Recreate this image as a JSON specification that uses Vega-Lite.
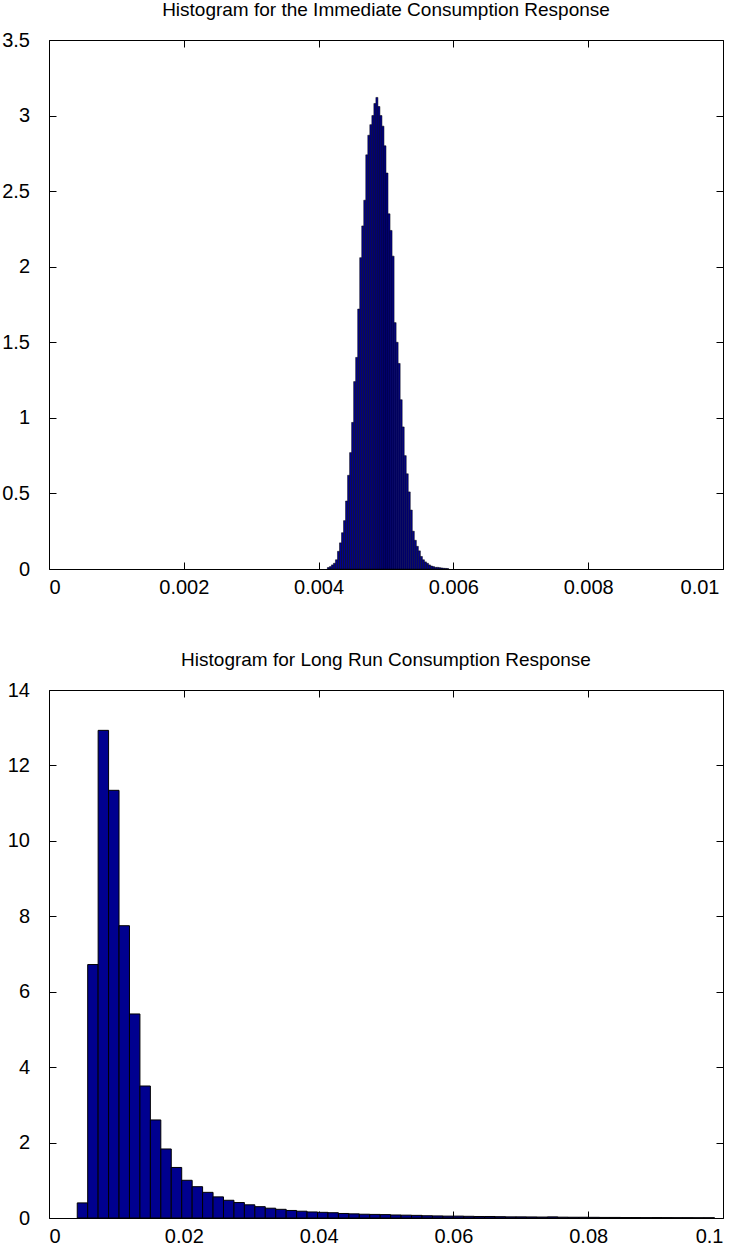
{
  "$schema": "https://vega.github.io/schema/vega-lite/v6.json",
  "padding": {"left": 1, "top": 0, "right": 0, "bottom": 0},
  "background": "white",
  "config": {
    "font": "Liberation Sans",
    "view": {"stroke": "black", "strokeWidth": 1},
    "axis": {
      "domain": false, "grid": false, "tickColor": "black", "tickSize": -7, "tickWidth": 1,
      "labelFontSize": 20, "labelColor": "black", "labelFont": "Liberation Sans", "title": null, "format": "~g"
    },
    "axisBottom": {"labelPadding": 15.5},
    "axisLeft": {"labelPadding": 26.5},
    "title": {"fontSize": 19, "fontWeight": "normal", "color": "black", "font": "Liberation Sans", "offset": 10, "frame": "group", "anchor": "middle"},
    "concat": {"spacing": 52}
  },
  "datasets": {
    "immediate": [
      {"bin_start": 0.00413, "bin_end": 0.00416, "height": 0.01},
      {"bin_start": 0.00416, "bin_end": 0.00419, "height": 0.016},
      {"bin_start": 0.00419, "bin_end": 0.00422, "height": 0.027},
      {"bin_start": 0.00422, "bin_end": 0.00425, "height": 0.038},
      {"bin_start": 0.00425, "bin_end": 0.00428, "height": 0.061},
      {"bin_start": 0.00428, "bin_end": 0.00431, "height": 0.117},
      {"bin_start": 0.00431, "bin_end": 0.00434, "height": 0.173},
      {"bin_start": 0.00434, "bin_end": 0.00437, "height": 0.24},
      {"bin_start": 0.00437, "bin_end": 0.0044, "height": 0.32},
      {"bin_start": 0.0044, "bin_end": 0.00443, "height": 0.45},
      {"bin_start": 0.00443, "bin_end": 0.00446, "height": 0.62},
      {"bin_start": 0.00446, "bin_end": 0.00449, "height": 0.77},
      {"bin_start": 0.00449, "bin_end": 0.00452, "height": 0.97},
      {"bin_start": 0.00452, "bin_end": 0.00455, "height": 1.24},
      {"bin_start": 0.00455, "bin_end": 0.00458, "height": 1.4},
      {"bin_start": 0.00458, "bin_end": 0.00461, "height": 1.72},
      {"bin_start": 0.00461, "bin_end": 0.00464, "height": 2.06},
      {"bin_start": 0.00464, "bin_end": 0.00467, "height": 2.27},
      {"bin_start": 0.00467, "bin_end": 0.0047, "height": 2.44},
      {"bin_start": 0.0047, "bin_end": 0.00473, "height": 2.74},
      {"bin_start": 0.00473, "bin_end": 0.00476, "height": 2.87},
      {"bin_start": 0.00476, "bin_end": 0.00479, "height": 2.94},
      {"bin_start": 0.00479, "bin_end": 0.00482, "height": 3.0},
      {"bin_start": 0.00482, "bin_end": 0.00485, "height": 3.08},
      {"bin_start": 0.00485, "bin_end": 0.00488, "height": 3.12},
      {"bin_start": 0.00488, "bin_end": 0.00491, "height": 3.06},
      {"bin_start": 0.00491, "bin_end": 0.00494, "height": 3.0},
      {"bin_start": 0.00494, "bin_end": 0.00497, "height": 2.93},
      {"bin_start": 0.00497, "bin_end": 0.005, "height": 2.8},
      {"bin_start": 0.005, "bin_end": 0.00503, "height": 2.62},
      {"bin_start": 0.00503, "bin_end": 0.00506, "height": 2.35},
      {"bin_start": 0.00506, "bin_end": 0.00509, "height": 2.24},
      {"bin_start": 0.00509, "bin_end": 0.00512, "height": 2.07},
      {"bin_start": 0.00512, "bin_end": 0.00515, "height": 1.63},
      {"bin_start": 0.00515, "bin_end": 0.00518, "height": 1.5},
      {"bin_start": 0.00518, "bin_end": 0.00521, "height": 1.36},
      {"bin_start": 0.00521, "bin_end": 0.00524, "height": 1.12},
      {"bin_start": 0.00524, "bin_end": 0.00527, "height": 0.94},
      {"bin_start": 0.00527, "bin_end": 0.0053, "height": 0.75},
      {"bin_start": 0.0053, "bin_end": 0.00533, "height": 0.63},
      {"bin_start": 0.00533, "bin_end": 0.00536, "height": 0.51},
      {"bin_start": 0.00536, "bin_end": 0.00539, "height": 0.39},
      {"bin_start": 0.00539, "bin_end": 0.00542, "height": 0.25},
      {"bin_start": 0.00542, "bin_end": 0.00545, "height": 0.19},
      {"bin_start": 0.00545, "bin_end": 0.00548, "height": 0.15},
      {"bin_start": 0.00548, "bin_end": 0.00551, "height": 0.12},
      {"bin_start": 0.00551, "bin_end": 0.00554, "height": 0.083},
      {"bin_start": 0.00554, "bin_end": 0.00557, "height": 0.061},
      {"bin_start": 0.00557, "bin_end": 0.0056, "height": 0.047},
      {"bin_start": 0.0056, "bin_end": 0.00563, "height": 0.038},
      {"bin_start": 0.00563, "bin_end": 0.00566, "height": 0.027},
      {"bin_start": 0.00566, "bin_end": 0.00569, "height": 0.02},
      {"bin_start": 0.00569, "bin_end": 0.00572, "height": 0.016},
      {"bin_start": 0.00572, "bin_end": 0.00575, "height": 0.011},
      {"bin_start": 0.00575, "bin_end": 0.00578, "height": 0.011},
      {"bin_start": 0.00578, "bin_end": 0.00581, "height": 0.009},
      {"bin_start": 0.00581, "bin_end": 0.00584, "height": 0.007},
      {"bin_start": 0.00584, "bin_end": 0.00587, "height": 0.005},
      {"bin_start": 0.00587, "bin_end": 0.0059, "height": 0.004},
      {"bin_start": 0.0059, "bin_end": 0.00593, "height": 0.003}
    ],
    "longrun": [
      {"bin_start": 0.00419, "bin_end": 0.00574, "height": 0.4},
      {"bin_start": 0.00574, "bin_end": 0.00729, "height": 6.72},
      {"bin_start": 0.00729, "bin_end": 0.00884, "height": 12.93},
      {"bin_start": 0.00884, "bin_end": 0.01039, "height": 11.34},
      {"bin_start": 0.01039, "bin_end": 0.01194, "height": 7.75},
      {"bin_start": 0.01194, "bin_end": 0.01349, "height": 5.41},
      {"bin_start": 0.01349, "bin_end": 0.01504, "height": 3.5},
      {"bin_start": 0.01504, "bin_end": 0.01659, "height": 2.6},
      {"bin_start": 0.01659, "bin_end": 0.01814, "height": 1.83},
      {"bin_start": 0.01814, "bin_end": 0.01969, "height": 1.34},
      {"bin_start": 0.01969, "bin_end": 0.02124, "height": 1.0},
      {"bin_start": 0.02124, "bin_end": 0.02279, "height": 0.83},
      {"bin_start": 0.02279, "bin_end": 0.02434, "height": 0.68},
      {"bin_start": 0.02434, "bin_end": 0.02589, "height": 0.56},
      {"bin_start": 0.02589, "bin_end": 0.02744, "height": 0.47},
      {"bin_start": 0.02744, "bin_end": 0.02899, "height": 0.41},
      {"bin_start": 0.02899, "bin_end": 0.03054, "height": 0.35},
      {"bin_start": 0.03054, "bin_end": 0.03209, "height": 0.3},
      {"bin_start": 0.03209, "bin_end": 0.03364, "height": 0.26},
      {"bin_start": 0.03364, "bin_end": 0.03519, "height": 0.23},
      {"bin_start": 0.03519, "bin_end": 0.03674, "height": 0.2},
      {"bin_start": 0.03674, "bin_end": 0.03829, "height": 0.18},
      {"bin_start": 0.03829, "bin_end": 0.03984, "height": 0.16},
      {"bin_start": 0.03984, "bin_end": 0.04139, "height": 0.15},
      {"bin_start": 0.04139, "bin_end": 0.04294, "height": 0.14},
      {"bin_start": 0.04294, "bin_end": 0.04449, "height": 0.12},
      {"bin_start": 0.04449, "bin_end": 0.04604, "height": 0.11},
      {"bin_start": 0.04604, "bin_end": 0.04759, "height": 0.1},
      {"bin_start": 0.04759, "bin_end": 0.04914, "height": 0.095},
      {"bin_start": 0.04914, "bin_end": 0.05069, "height": 0.09},
      {"bin_start": 0.05069, "bin_end": 0.05224, "height": 0.08},
      {"bin_start": 0.05224, "bin_end": 0.05379, "height": 0.075},
      {"bin_start": 0.05379, "bin_end": 0.05534, "height": 0.07},
      {"bin_start": 0.05534, "bin_end": 0.05689, "height": 0.06},
      {"bin_start": 0.05689, "bin_end": 0.05844, "height": 0.055},
      {"bin_start": 0.05844, "bin_end": 0.05999, "height": 0.05},
      {"bin_start": 0.05999, "bin_end": 0.06154, "height": 0.05},
      {"bin_start": 0.06154, "bin_end": 0.06309, "height": 0.045},
      {"bin_start": 0.06309, "bin_end": 0.06464, "height": 0.04},
      {"bin_start": 0.06464, "bin_end": 0.06619, "height": 0.04},
      {"bin_start": 0.06619, "bin_end": 0.06774, "height": 0.035},
      {"bin_start": 0.06774, "bin_end": 0.06929, "height": 0.03},
      {"bin_start": 0.06929, "bin_end": 0.07084, "height": 0.03},
      {"bin_start": 0.07084, "bin_end": 0.07239, "height": 0.028},
      {"bin_start": 0.07239, "bin_end": 0.07394, "height": 0.025},
      {"bin_start": 0.07394, "bin_end": 0.07549, "height": 0.03},
      {"bin_start": 0.07549, "bin_end": 0.07704, "height": 0.022},
      {"bin_start": 0.07704, "bin_end": 0.07859, "height": 0.02},
      {"bin_start": 0.07859, "bin_end": 0.08014, "height": 0.02},
      {"bin_start": 0.08014, "bin_end": 0.08169, "height": 0.018},
      {"bin_start": 0.08169, "bin_end": 0.08324, "height": 0.015},
      {"bin_start": 0.08324, "bin_end": 0.08479, "height": 0.015},
      {"bin_start": 0.08479, "bin_end": 0.08634, "height": 0.012},
      {"bin_start": 0.08634, "bin_end": 0.08789, "height": 0.012},
      {"bin_start": 0.08789, "bin_end": 0.08944, "height": 0.01},
      {"bin_start": 0.08944, "bin_end": 0.09099, "height": 0.012},
      {"bin_start": 0.09099, "bin_end": 0.09254, "height": 0.01},
      {"bin_start": 0.09254, "bin_end": 0.09409, "height": 0.008},
      {"bin_start": 0.09409, "bin_end": 0.09564, "height": 0.008},
      {"bin_start": 0.09564, "bin_end": 0.09719, "height": 0.006},
      {"bin_start": 0.09719, "bin_end": 0.09874, "height": 0.006}
    ]
  },
  "vconcat": [
    {
      "title": "Histogram for the Immediate Consumption Response",
      "width": 674,
      "height": 529,
      "data": {"name": "immediate"},
      "layer": [
        {
          "mark": {"type": "bar", "fill": "#00008F", "stroke": "black", "strokeWidth": 0.5},
          "encoding": {
            "x": {"field": "bin_start", "type": "quantitative", "scale": {"domain": [0, 0.01], "nice": false, "zero": false},
                  "axis": {"orient": "bottom", "values": [0, 0.002, 0.004, 0.006, 0.008, 0.01],
                           "labelOffset": {"condition": {"test": "datum.value === 0.01", "value": -4}, "value": 0}}},
            "x2": {"field": "bin_end"},
            "y": {"field": "height", "type": "quantitative", "scale": {"domain": [0, 3.5], "nice": false},
                  "axis": {"orient": "left", "values": [0, 0.5, 1, 1.5, 2, 2.5, 3, 3.5]}},
            "y2": {"datum": 0}
          }
        },
        {
          "mark": {"type": "point", "opacity": 0},
          "encoding": {
            "x": {"field": "bin_start", "type": "quantitative", "scale": {"domain": [0, 0.01], "nice": false, "zero": false},
                  "axis": {"orient": "top", "values": [0, 0.002, 0.004, 0.006, 0.008, 0.01], "labels": false}},
            "y": {"field": "height", "type": "quantitative", "scale": {"domain": [0, 3.5], "nice": false},
                  "axis": {"orient": "right", "values": [0, 0.5, 1, 1.5, 2, 2.5, 3, 3.5], "labels": false}}
          }
        }
      ],
      "resolve": {"axis": {"x": "independent", "y": "independent"}}
    },
    {
      "title": "Histogram for Long Run Consumption Response",
      "width": 674,
      "height": 528,
      "data": {"name": "longrun"},
      "layer": [
        {
          "mark": {"type": "bar", "fill": "#00008F", "stroke": "black", "strokeWidth": 1},
          "encoding": {
            "x": {"field": "bin_start", "type": "quantitative", "scale": {"domain": [0, 0.1], "nice": false, "zero": false},
                  "axis": {"orient": "bottom", "values": [0, 0.02, 0.04, 0.06, 0.08, 0.1]}},
            "x2": {"field": "bin_end"},
            "y": {"field": "height", "type": "quantitative", "scale": {"domain": [0, 14], "nice": false},
                  "axis": {"orient": "left", "values": [0, 2, 4, 6, 8, 10, 12, 14]}},
            "y2": {"datum": 0}
          }
        },
        {
          "mark": {"type": "point", "opacity": 0},
          "encoding": {
            "x": {"field": "bin_start", "type": "quantitative", "scale": {"domain": [0, 0.1], "nice": false, "zero": false},
                  "axis": {"orient": "top", "values": [0, 0.02, 0.04, 0.06, 0.08, 0.1], "labels": false}},
            "y": {"field": "height", "type": "quantitative", "scale": {"domain": [0, 14], "nice": false},
                  "axis": {"orient": "right", "values": [0, 2, 4, 6, 8, 10, 12, 14], "labels": false}}
          }
        }
      ],
      "resolve": {"axis": {"x": "independent", "y": "independent"}}
    }
  ]
}
